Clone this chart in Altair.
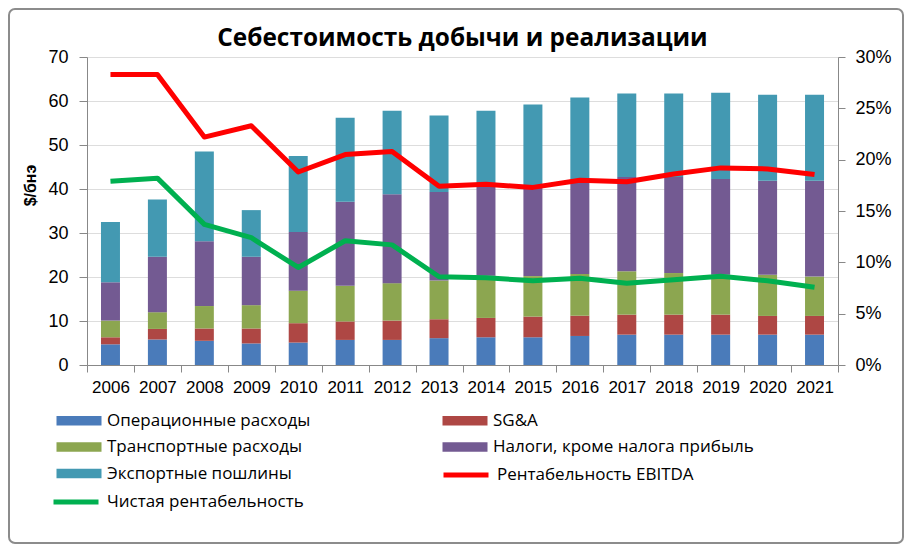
import altair as alt
import pandas as pd

years = [str(y) for y in range(2006, 2022)]
opex      = [4.7, 5.8, 5.5, 4.9, 5.1, 5.7, 5.7, 6.1, 6.3, 6.3, 6.6, 6.9, 6.9, 6.9, 6.9, 6.9]
sga       = [1.6, 2.4, 2.8, 3.4, 4.4, 4.2, 4.4, 4.3, 4.4, 4.7, 4.6, 4.55, 4.55, 4.55, 4.25, 4.25]
transport = [3.8, 3.8, 5.1, 5.3, 7.4, 8.1, 8.5, 8.8, 9.6, 9.2, 9.5, 9.85, 9.45, 9.05, 9.35, 8.95]
taxes     = [8.7, 12.6, 14.7, 11.0, 13.3, 19.1, 20.2, 20.1, 20.3, 20.6, 20.9, 21.4, 21.8, 21.8, 21.4, 21.8]
export    = [13.7, 13.0, 20.4, 10.6, 17.3, 19.1, 19.0, 17.4, 17.2, 18.4, 19.2, 19.0, 19.0, 19.6, 19.5, 19.5]
ebitda_pct = [28.3, 28.3, 22.2, 23.3, 18.8, 20.5, 20.8, 17.4, 17.6, 17.3, 18.0, 17.85, 18.6, 19.2, 19.1, 18.55]
net_pct    = [17.9, 18.2, 13.7, 12.4, 9.5, 12.1, 11.7, 8.6, 8.5, 8.2, 8.45, 7.96, 8.3, 8.65, 8.2, 7.57]

bar_names = ["Операционные расходы", "SG&A", "Транспортные расходы",
             "Налоги, кроме налога прибыль", "Экспортные пошлины"]
bar_colors = ["#4A7BBA", "#AE4744", "#8CA650", "#735A92", "#4399B2"]
ebitda_name, ebitda_color = "Рентабельность EBITDA", "#FF0000"
net_name, net_color = "Чистая рентабельность", "#00B050"

bar_series = [opex, sga, transport, taxes, export]
bar_rows = []
for i, (name, vals) in enumerate(zip(bar_names, bar_series)):
    for y, v in zip(years, vals):
        bar_rows.append({"year": y, "series": name, "value": v, "idx": i})
bars_df = pd.DataFrame(bar_rows)

ebitda_df = pd.DataFrame({"year": years, "series": ebitda_name, "value": [v / 100 for v in ebitda_pct]})
net_df = pd.DataFrame({"year": years, "series": net_name, "value": [v / 100 for v in net_pct]})

FONT = "Open Sans"
GRAY = "#8C8C8C"
LEG = dict(title=None, labelFont=FONT, labelFontSize=17, labelColor="black",
           labelLimit=400, padding=0)

x_enc = alt.X("year:O", scale=alt.Scale(paddingInner=0, paddingOuter=0),
              axis=alt.Axis(title=None, labelAngle=0, tickBand="extent", tickSize=7,
                            labelPadding=7, labelFontSize=17, grid=False))

bars = alt.Chart(bars_df).mark_bar(size=19).encode(
    x=x_enc,
    y=alt.Y("value:Q", stack="zero", scale=alt.Scale(domain=[0, 70], nice=False),
            axis=alt.Axis(values=list(range(0, 71, 10)), title="$/бнэ", tickSize=8,
                          labelPadding=11, labelFontSize=18, grid=True,
                          titleFontSize=16, titleFontWeight="bold", titleX=-49, titleY=128,
                          titleAngle=270)),
    fill=alt.Fill("series:N", scale=alt.Scale(domain=bar_names, range=bar_colors),
                  legend=alt.Legend(orient="none", legendX=-34, legendY=355, columns=2,
                                    direction="horizontal", symbolSize=100,
                                    symbolType="M-1,-0.95H8V0.95H-1Z", symbolStrokeWidth=0,
                                    labelOffset=37,
                                    gridAlign="all", columnPadding=71, rowPadding=8.5, **LEG)),
    order=alt.Order("idx:Q", sort="ascending"),
)

def y_right():
    return alt.Y("value:Q", scale=alt.Scale(domain=[0, 0.3], nice=False),
                 axis=alt.Axis(orient="right", format=".0%",
                               values=[0, 0.05, 0.1, 0.15, 0.2, 0.25, 0.3],
                               title=None, tickSize=7, labelPadding=10, labelFontSize=18,
                               grid=False))

line_ebitda = alt.Chart(ebitda_df).mark_line(strokeWidth=5, strokeJoin="round").encode(
    x=alt.X("year:O"), y=y_right(),
    stroke=alt.Stroke("series:N", scale=alt.Scale(domain=[ebitda_name], range=[ebitda_color]),
                      legend=alt.Legend(orient="none", legendX=354, legendY=393,
                                        symbolType="stroke", symbolStrokeWidth=5,
                                        symbolSize=2025, labelOffset=6, **LEG)),
)
line_net = alt.Chart(net_df).mark_line(strokeWidth=5, strokeJoin="round").encode(
    x=alt.X("year:O"), y=y_right(),
    stroke=alt.Stroke("series:N", scale=alt.Scale(domain=[net_name], range=[net_color]),
                      legend=alt.Legend(orient="none", legendX=-36, legendY=420,
                                        symbolType="stroke", symbolStrokeWidth=5,
                                        symbolSize=2025, labelOffset=6, **LEG)),
)

frame = alt.Chart(pd.DataFrame({"a": [0]})).mark_rect(
    filled=False, stroke=GRAY, strokeWidth=2, cornerRadius=6
).encode(x=alt.value(-78), x2=alt.value(816), y=alt.value(-48), y2=alt.value(486))

lines = alt.layer(line_ebitda, line_net).resolve_scale(stroke="independent").resolve_legend(stroke="independent")

chart = alt.layer(bars, lines, frame).resolve_scale(
    y="independent", stroke="independent"
).resolve_legend(stroke="independent").properties(
    width=751, height=308,
    autosize=alt.AutoSizeParams(type="none"),
    padding={"left": 79, "top": 49, "right": 66, "bottom": 179},
    title=alt.TitleParams("Себестоимость добычи и реализации", font=FONT, fontSize=24.4,
                          fontWeight="bold", color="black", anchor="middle", offset=-43),
).configure_view(stroke=None).configure_axis(
    labelFont=FONT, titleFont=FONT, labelColor="black", titleColor="black",
    domainColor=GRAY, tickColor=GRAY, gridColor=GRAY, domainWidth=1, gridWidth=1,
).configure(background="white")

chart.save("out.html", embed_options={"renderer": "svg", "actions": False})
